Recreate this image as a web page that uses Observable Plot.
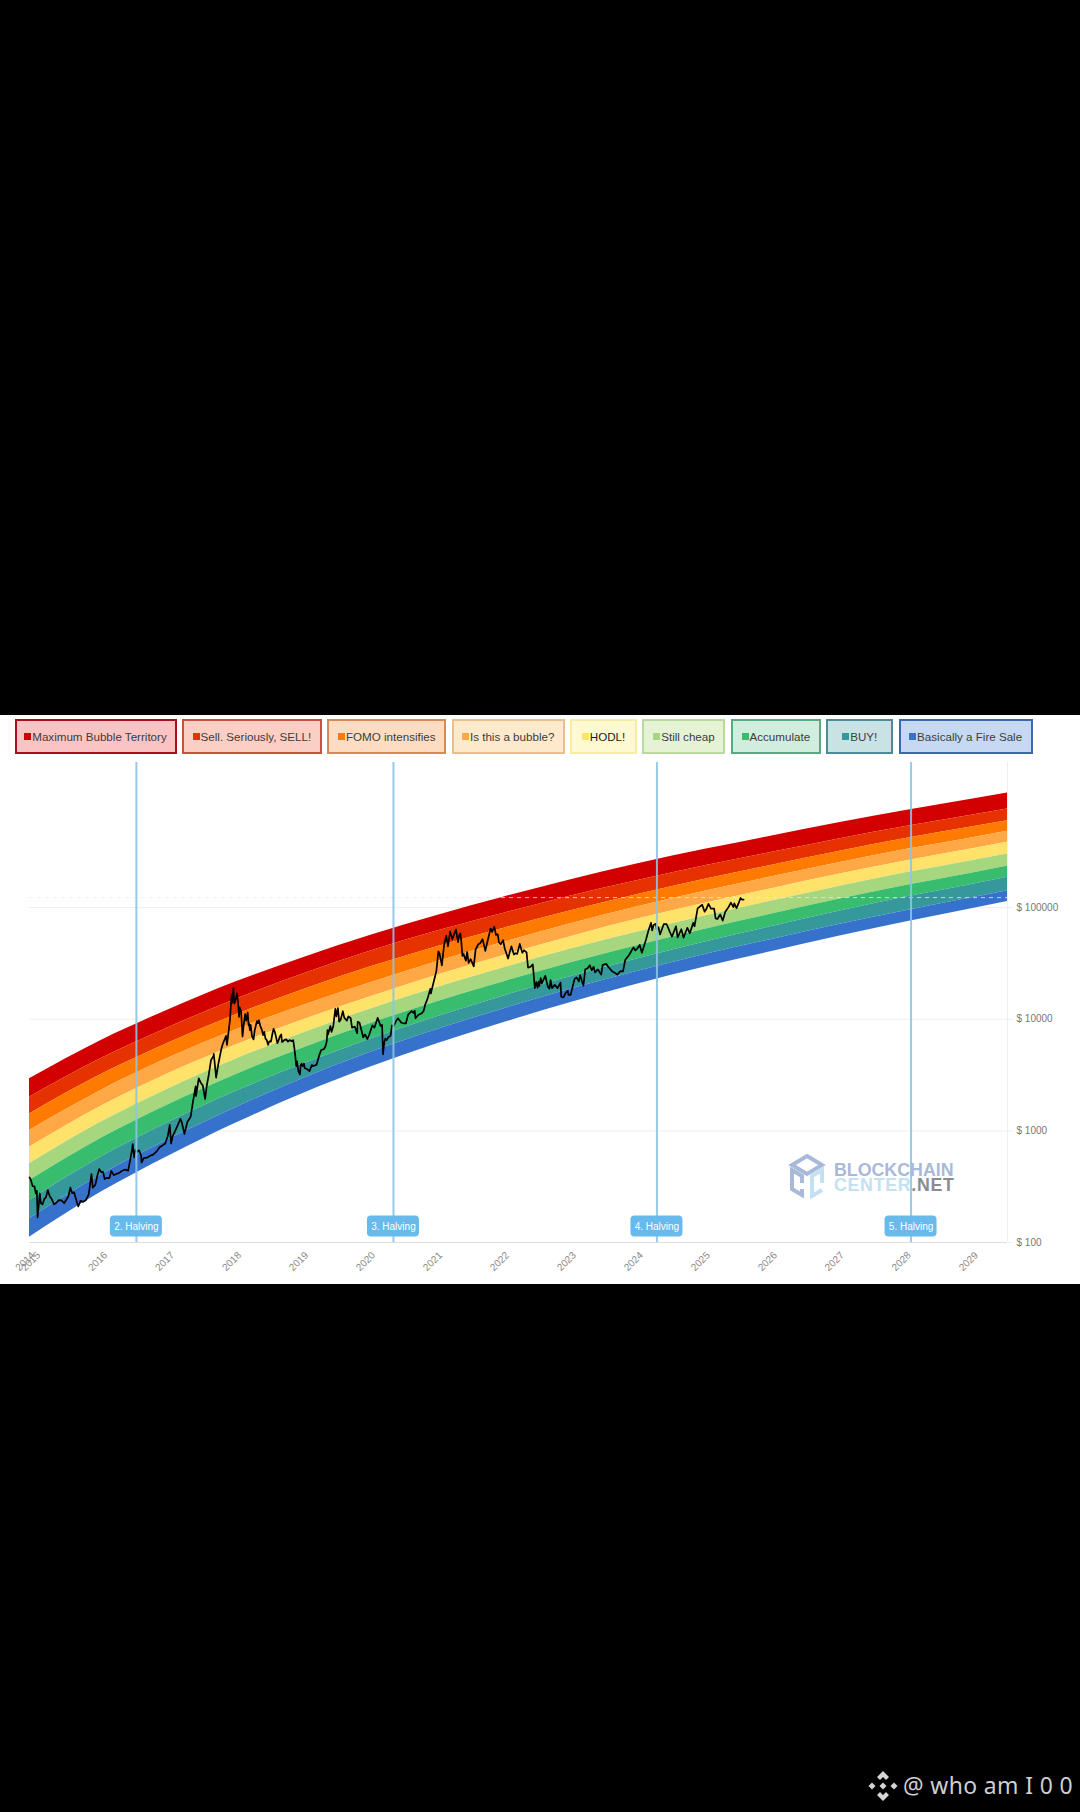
<!DOCTYPE html>
<html><head><meta charset="utf-8">
<script src="https://cdn.jsdelivr.net/npm/d3@7"></script>
<script src="https://cdn.jsdelivr.net/npm/@observablehq/plot@0.6"></script>
<style>
html,body{margin:0;padding:0;background:#000;width:1080px;height:1812px;overflow:hidden;font-family:"Liberation Sans",Arial,sans-serif}
#panel{position:absolute;left:0;top:715px;width:1080px;height:569px;background:#fff}
#legend{position:absolute;left:14.5px;top:719px;display:flex;gap:5.4px}
.lg{box-sizing:border-box;height:34.5px;border:2px solid;display:flex;align-items:center;justify-content:center;font-size:11.6px;color:#3c3c3c;white-space:nowrap}
.lg i{display:inline-block;width:7px;height:7px;margin-right:1px}
#chart{position:absolute;left:0;top:762px}
#mark{position:absolute;left:788px;top:1153px;width:170px;height:48px}
#sign{position:absolute;left:867px;top:1768px;width:36px;height:36px}
.w1{position:absolute;left:46px;top:9.500px;font:bold 17.800px/15px "Liberation Sans";color:#a9b9d9}
.w2{position:absolute;left:46px;top:25px;font:bold 17.800px/15px "Liberation Sans";color:#c4e0f3;letter-spacing:.7px}
.w2 b{color:#8c8c8c}
#who{position:absolute;left:903px;top:1770px;color:#cfcfcf;font:22.9px "Noto Sans";letter-spacing:.4px;white-space:pre}
</style></head><body>
<div id="panel"></div>
<div id="legend"></div>
<div id="chart"></div>
<div id="mark">
<svg width="38" height="48" style="position:absolute;left:0;top:0" viewBox="0 0 38 48">
<polygon points="19,3 34,12 19,21 4,12" fill="none" stroke="#a9b9d9" stroke-width="4"/>
<polyline points="14,30 14,23 4,17 4,36 14,42 14,36" fill="none" stroke="#a9b9d9" stroke-width="4"/>
<polyline points="34,30 34,17 24,23 24,43 34,37" fill="none" stroke="#c4e0f3" stroke-width="4"/>
</svg>
<div class="w1">BLOCKCHAIN</div>
<div class="w2">CENTER<b>.NET</b></div>
</div>
<svg id="sign" viewBox="0 0 36 36"><g fill="#d6d6d6">
<polygon points="16,3 22,9 19,12 16,9 13,12 10,9"/>
<polygon points="16,33 22,27 19,24 16,27 13,24 10,27"/>
<polygon points="5,14.500 8.500,18 5,21.500 1.500,18"/>
<polygon points="27,14.500 30.500,18 27,21.500 23.500,18"/>
<polygon points="16,14.500 19.500,18 16,21.500 12.500,18"/>
</g></svg>
<div id="who">@ who am I 0 0</div>
<script>
const legendNames = ["Maximum Bubble Territory","Sell. Seriously, SELL!","FOMO intensifies","Is this a bubble?","HODL!","Still cheap","Accumulate","BUY!","Basically a Fire Sale"];
const bandColors = ["#d20000","#e63200","#ff7a00","#ffa845","#ffe26a","#a6d67e","#38bd6e","#35989b","#3672cc"];
const legendBorders = ["#a8101e","#c9523f","#d98a50","#eac08a","#f7eca0","#b9d9a0","#57ab82","#4f8a98","#3c69ad"];
const legendFills = ["#fbc4c4","#fbcfc4","#fddcc2","#fdeacc","#fff9d2","#e3f3d4","#cfeedd","#c9e2e4","#c7d9f2"];
const legendWidths = [162,140,119,113,67,83,90,67,134];

const bandDates = ["2014-12-01","2016-01-01","2017-01-01","2018-01-01","2019-01-01","2020-01-01","2021-01-01","2022-01-01","2023-01-01","2024-01-01","2025-01-01","2026-01-01","2027-01-01","2028-01-01","2029-01-01","2029-07-09"];
// band edges, log10 of USD, read top edge to bottom edge
const edge0 = [3.466,3.814,4.088,4.335,4.552,4.750,4.930,5.095,5.250,5.392,5.522,5.642,5.760,5.871,5.973,6.027];
const edge1 = [3.301,3.652,3.929,4.180,4.405,4.608,4.790,4.950,5.105,5.243,5.375,5.495,5.615,5.726,5.830,5.884];
const edge2 = [3.152,3.509,3.790,4.040,4.265,4.468,4.650,4.815,4.973,5.117,5.254,5.380,5.503,5.619,5.724,5.779];
const edge3 = [3.003,3.367,3.654,3.905,4.124,4.325,4.515,4.690,4.855,5.008,5.147,5.276,5.402,5.520,5.627,5.683];
const edge4 = [2.853,3.225,3.517,3.770,3.994,4.200,4.395,4.572,4.740,4.897,5.039,5.170,5.298,5.418,5.528,5.585];
const edge5 = [2.705,3.083,3.380,3.643,3.876,4.090,4.285,4.462,4.629,4.781,4.926,5.059,5.190,5.312,5.423,5.481];
const edge6 = [2.555,2.938,3.239,3.506,3.743,3.960,4.157,4.337,4.506,4.661,4.807,4.942,5.074,5.198,5.311,5.370];
const edge7 = [2.376,2.770,3.079,3.355,3.598,3.821,4.023,4.209,4.382,4.541,4.692,4.831,4.967,5.094,5.210,5.271];
const edge8 = [2.212,2.612,2.926,3.210,3.470,3.702,3.908,4.095,4.270,4.430,4.580,4.715,4.848,4.973,5.090,5.152];
const edge9 = [2.047,2.456,2.778,3.070,3.335,3.570,3.780,3.970,4.150,4.315,4.468,4.607,4.743,4.871,4.991,5.054];
const edges = [edge0,edge1,edge2,edge3,edge4,edge5,edge6,edge7,edge8,edge9];

const priceRows = `2014-12-01 383
2014-12-08 365
2014-12-18 320
2014-12-28 318
2015-01-05 275
2015-01-10 290
2015-01-14 168
2015-01-20 212
2015-01-26 275
2015-02-01 225
2015-02-10 220
2015-02-20 245
2015-03-01 255
2015-03-11 295
2015-03-20 262
2015-04-01 245
2015-04-14 220
2015-04-25 226
2015-05-10 240
2015-05-25 238
2015-06-08 225
2015-06-22 245
2015-07-01 258
2015-07-12 310
2015-07-22 277
2015-08-01 282
2015-08-18 225
2015-08-24 210
2015-09-05 236
2015-09-20 231
2015-10-05 240
2015-10-20 270
2015-11-04 410
2015-11-11 310
2015-11-25 328
2015-12-05 390
2015-12-16 455
2015-12-28 425
2016-01-06 430
2016-01-15 370
2016-01-28 380
2016-02-10 378
2016-02-20 438
2016-03-05 400
2016-03-20 412
2016-04-05 422
2016-04-20 440
2016-05-05 450
2016-05-22 440
2016-06-01 535
2016-06-12 675
2016-06-16 760
2016-06-23 580
2016-07-01 675
2016-07-09 650
2016-07-20 670
2016-08-01 600
2016-08-03 520
2016-08-15 570
2016-09-01 575
2016-09-20 600
2016-10-05 612
2016-10-25 655
2016-11-08 710
2016-11-25 740
2016-12-10 770
2016-12-24 895
2017-01-04 1130
2017-01-11 770
2017-01-20 895
2017-02-05 1020
2017-02-23 1190
2017-03-03 1280
2017-03-10 1200
2017-03-25 940
2017-04-10 1200
2017-04-28 1340
2017-05-10 1800
2017-05-25 2500
2017-05-27 2050
2017-06-11 2950
2017-06-22 2700
2017-07-03 2550
2017-07-16 1930
2017-07-25 2550
2017-08-05 3200
2017-08-17 4300
2017-08-31 4700
2017-09-01 4900
2017-09-14 3000
2017-09-25 3900
2017-10-12 5400
2017-10-20 6000
2017-11-07 7100
2017-11-12 5900
2017-11-28 9700
2017-12-07 16500
2017-12-10 14000
2017-12-17 19000
2017-12-22 13800
2017-12-28 14500
2018-01-06 17100
2018-01-12 13800
2018-01-17 10500
2018-01-20 12800
2018-01-28 11700
2018-02-05 7000
2018-02-10 8600
2018-02-19 11100
2018-02-25 9700
2018-03-05 11500
2018-03-10 8800
2018-03-13 9100
2018-03-17 8000
2018-03-21 8900
2018-03-29 7000
2018-04-06 6600
2018-04-12 7900
2018-04-24 9600
2018-04-30 9200
2018-05-05 9800
2018-05-13 8700
2018-05-22 8000
2018-05-28 7200
2018-06-03 7700
2018-06-10 6700
2018-06-17 6500
2018-06-24 5900
2018-07-01 6350
2018-07-10 6300
2018-07-17 7300
2018-07-24 8200
2018-07-31 7700
2018-08-07 6900
2018-08-14 6100
2018-08-21 6500
2018-08-28 7050
2018-09-04 7300
2018-09-08 6250
2018-09-12 6300
2018-09-20 6500
2018-10-01 6600
2018-10-11 6300
2018-10-20 6500
2018-11-01 6350
2018-11-08 6500
2018-11-14 5600
2018-11-19 4800
2018-11-25 3800
2018-11-29 4200
2018-12-07 3400
2018-12-15 3200
2018-12-19 3900
2018-12-24 4000
2018-12-30 3800
2019-01-06 4000
2019-01-10 3650
2019-01-20 3600
2019-02-05 3430
2019-02-18 3900
2019-02-24 3800
2019-03-05 3850
2019-03-15 3900
2019-04-02 4900
2019-04-10 5300
2019-04-25 5400
2019-05-03 5700
2019-05-10 6300
2019-05-14 8000
2019-05-17 7300
2019-05-30 8700
2019-06-05 7700
2019-06-15 8700
2019-06-26 12400
2019-07-02 10600
2019-07-10 12600
2019-07-17 9500
2019-07-25 9900
2019-08-06 11800
2019-08-14 10300
2019-08-28 9700
2019-09-05 10600
2019-09-18 10200
2019-09-25 8400
2019-10-10 8600
2019-10-23 7500
2019-10-26 9500
2019-11-05 9300
2019-11-25 6900
2019-12-05 7300
2019-12-18 6650
2019-12-28 7300
2020-01-14 8800
2020-01-25 8400
2020-02-12 10300
2020-02-28 8700
2020-03-07 8900
2020-03-12 4850
2020-03-19 6200
2020-03-24 6700
2020-04-01 6500
2020-04-10 6900
2020-04-22 7100
2020-04-30 8800
2020-05-10 8700
2020-05-20 9500
2020-06-01 10200
2020-06-10 9800
2020-06-20 9300
2020-07-01 9200
2020-07-15 9200
2020-07-27 11000
2020-08-15 11800
2020-08-25 11400
2020-09-01 11900
2020-09-05 10200
2020-09-20 10900
2020-10-10 11300
2020-10-20 11900
2020-10-28 13500
2020-11-10 15300
2020-11-25 18700
2020-11-28 17000
2020-12-05 19000
2020-12-17 22800
2020-12-28 27000
2021-01-08 40500
2021-01-14 39000
2021-01-27 30400
2021-02-08 46000
2021-02-20 56000
2021-03-01 45000
2021-03-13 61000
2021-03-25 52000
2021-04-05 58500
2021-04-14 63500
2021-04-25 49000
2021-05-03 57500
2021-05-08 58800
2021-05-13 50000
2021-05-19 37000
2021-05-25 38500
2021-06-07 33500
2021-06-14 40000
2021-06-22 32000
2021-07-03 34500
2021-07-20 29800
2021-07-30 42000
2021-08-14 47000
2021-08-24 48000
2021-09-06 52000
2021-09-21 41000
2021-10-05 51500
2021-10-20 65000
2021-10-28 60500
2021-11-09 67500
2021-11-18 57000
2021-11-28 57500
2021-12-04 49000
2021-12-14 47000
2021-12-27 51000
2022-01-05 43000
2022-01-23 35000
2022-02-10 45000
2022-02-24 38000
2022-03-05 39000
2022-03-14 38500
2022-03-28 47300
2022-04-11 39500
2022-04-20 41500
2022-05-04 39700
2022-05-12 29000
2022-05-25 29500
2022-06-07 31000
2022-06-18 19000
2022-06-26 21500
2022-07-03 19200
2022-07-08 21700
2022-07-13 19900
2022-07-20 23400
2022-07-26 21000
2022-08-14 24500
2022-08-28 19600
2022-09-06 18800
2022-09-12 22400
2022-09-20 19000
2022-10-05 20300
2022-10-20 19000
2022-11-05 21300
2022-11-09 15900
2022-11-21 15700
2022-12-01 17000
2022-12-14 18000
2022-12-19 16500
2022-12-30 16500
2023-01-21 23000
2023-02-01 23700
2023-02-13 21800
2023-02-20 24800
2023-03-10 20000
2023-03-20 28000
2023-04-01 28500
2023-04-14 30500
2023-04-24 27500
2023-05-05 29500
2023-05-12 26300
2023-05-28 28000
2023-06-15 25100
2023-06-23 30700
2023-07-13 31300
2023-07-25 29200
2023-08-17 26600
2023-08-28 26100
2023-09-11 25100
2023-09-28 27000
2023-10-12 26800
2023-10-24 33900
2023-11-15 37800
2023-12-08 44000
2023-12-18 41300
2023-12-28 42700
2024-01-11 46300
2024-01-23 39500
2024-02-15 52000
2024-02-28 62500
2024-03-13 73000
2024-03-19 62500
2024-03-27 70000
2024-04-08 71500
2024-04-13 64000
2024-04-22 66800
2024-05-01 57500
2024-05-21 71000
2024-06-06 71000
2024-06-24 60300
2024-07-05 55000
2024-07-27 68000
2024-08-05 54000
2024-08-25 64000
2024-09-06 53900
2024-09-27 66000
2024-10-10 59000
2024-10-29 73000
2024-11-05 68000
2024-11-22 98500
2024-12-17 106000
2024-12-30 92000
2025-01-07 96000
2025-01-20 108000
2025-02-03 98000
2025-02-20 98000
2025-02-28 80000
2025-03-10 79000
2025-03-25 87000
2025-04-08 76500
2025-04-22 92000
2025-05-08 100000
2025-05-22 111000
2025-06-05 101000
2025-06-10 109000
2025-06-22 99000
2025-07-03 109000
2025-07-14 122000
2025-07-22 118000
2025-07-31 118000`;

const halvingNames = ["2. Halving","3. Halving","4. Halving","5. Halving"];
const halvingDates = ["2016-07-06","2020-05-08","2024-04-14","2028-01-30"];
const tickYears = ["2014-12-01","2015-01-01","2016-01-01","2017-01-01","2018-01-01","2019-01-01","2020-01-01","2021-01-01","2022-01-01","2023-01-01","2024-01-01","2025-01-01","2026-01-01","2027-01-01","2028-01-01","2029-01-01"];
const priceTicks = [100,1000,10000,100000];
const dashLevel = 123000;
const halvingLabelLevel = 139;

const D = s => new Date(s + "T00:00:00Z");
const price = priceRows.split("\n").map(r => { const [a,b] = r.split(" "); return {date:D(a), usd:+b}; });
const halvings = halvingNames.map((n,i) => ({name:n, date:D(halvingDates[i])}));
const rows = [];
for (let i = 0; i < 9; i++) bandDates.forEach((d,j) => rows.push({band:bandColors[i], date:D(d), hi:10**edges[i][j], lo:10**edges[i+1][j]}));

const legend = document.getElementById("legend");
legendNames.forEach((n,i) => {
  const el = document.createElement("div");
  el.className = "lg";
  el.style.width = legendWidths[i] + "px";
  el.style.borderColor = legendBorders[i];
  el.style.background = legendFills[i];
  if (n === "HODL!") el.style.color = "#1a1a1a";
  el.innerHTML = `<i style="background:${bandColors[i]}"></i>${n}`;
  legend.appendChild(el);
});

const chart = Plot.plot({
  width: 1080, height: 522,
  marginLeft: 29, marginRight: 73, marginTop: 0, marginBottom: 42,
  style: {background: "transparent", fontFamily: "Liberation Sans"},
  x: {type: "utc", domain: [D("2014-12-01"), D("2029-07-09")]},
  y: {type: "log", domain: [100, 10**4.3*100]},
  marks: [
    Plot.ruleY(priceTicks.slice(1), {stroke: "#efefef"}),
    Plot.ruleY([100], {stroke: "#dddddd", strokeWidth: 1.2}),
    Plot.ruleX([D("2029-07-09")], {stroke: "#eeeeee"}),
    ...bandColors.map(c => Plot.areaY(rows.filter(r => r.band === c), {x: "date", y1: "lo", y2: "hi", fill: c, curve: "monotone-x"})),
    Plot.ruleY([dashLevel], {stroke: "#eeeeee", strokeOpacity: .75, strokeDasharray: "4,4"}),
    Plot.line(price, {x: "date", y: "usd", stroke: "#000", strokeWidth: 1.7}),
    Plot.ruleX(halvings, {x: "date", stroke: "#8cc4e4", strokeWidth: 2, strokeOpacity: .9}),
    Plot.rect(halvings, {x1: "date", x2: "date", y1: () => halvingLabelLevel, y2: () => halvingLabelLevel, fill: "#68b9ec", rx: 4, insetLeft: -26, insetRight: -26, insetTop: -10.5, insetBottom: -10.5}),
    Plot.text(halvings, {x: "date", y: () => halvingLabelLevel, text: "name", fill: "#fff", fontSize: 10}),
    Plot.axisY({anchor: "right", ticks: priceTicks, tickFormat: d => "$ " + d, tickSize: 5, tickPadding: 4, stroke: "#eeeeee", fill: "#777", fontSize: 10, label: null}),
    Plot.axisX({ticks: tickYears.map(D), tickFormat: d => d.getUTCMonth() === 11 ? "2014" : String(d.getUTCFullYear()), tickRotate: -45, tickSize: 0, tickPadding: 8, dx: 3.5, dy: 3, fill: "#888", fontSize: 10, label: null})
  ]
});
document.getElementById("chart").appendChild(chart);
</script>
</body></html>
